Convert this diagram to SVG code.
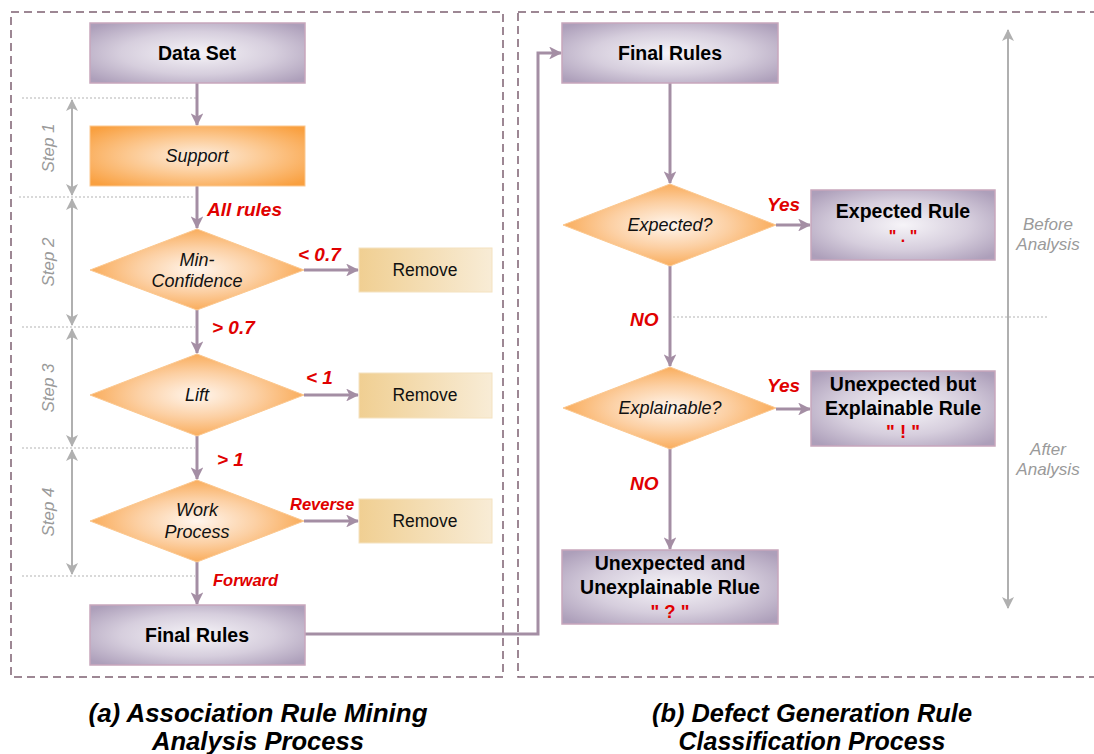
<svg xmlns="http://www.w3.org/2000/svg" width="1094" height="754" viewBox="0 0 1094 754">
<defs>
<radialGradient id="gPurple" cx="50%" cy="50%" r="65%">
<stop offset="0" stop-color="#f6f4f8"/>
<stop offset="0.55" stop-color="#d6cedd"/>
<stop offset="1" stop-color="#ad9fba"/>
</radialGradient>
<radialGradient id="gOrange" cx="50%" cy="50%" r="55%">
<stop offset="0" stop-color="#fff6ee"/>
<stop offset="0.5" stop-color="#fcd0a4"/>
<stop offset="1" stop-color="#f9a54c"/>
</radialGradient>
<radialGradient id="gSupport" cx="50%" cy="50%" r="65%">
<stop offset="0" stop-color="#fdeee0"/>
<stop offset="0.5" stop-color="#fcc890"/>
<stop offset="1" stop-color="#f9a040"/>
</radialGradient>
<linearGradient id="gRemove" x1="0" y1="0" x2="1" y2="0">
<stop offset="0" stop-color="#f0cf92"/>
<stop offset="1" stop-color="#f8ecd6"/>
</linearGradient>
<marker id="arr" viewBox="0 0 12 12" refX="11" refY="6" markerWidth="4.3" markerHeight="4.3" markerUnits="strokeWidth" orient="auto">
<path d="M0,0 L12,6 L0,12 L3,6 z" fill="#a48ea4"/>
</marker>
<marker id="garr" viewBox="0 0 12 12" refX="11" refY="6" markerWidth="6" markerHeight="6" markerUnits="strokeWidth" orient="auto-start-reverse">
<path d="M0,0 L12,6 L0,12 L3,6 z" fill="#b0b0b0"/>
</marker>
<style>
.panel{fill:none;stroke:#7e6072;stroke-width:1.5;stroke-dasharray:8,5}
.pbox{fill:url(#gPurple);stroke:#c8a6bc;stroke-width:1.5}
.odia{fill:url(#gOrange);stroke:#fbc890;stroke-width:1}
.rem{fill:url(#gRemove);stroke:#f4e2c0;stroke-width:1}
.con{fill:none;stroke:#a48ea4;stroke-width:3}
.dot{stroke:#b4b4b4;stroke-width:1.2;stroke-dasharray:2,2}
.garrow{stroke:#b0b0b0;stroke-width:2}
.bt{font-family:"Liberation Sans",Arial,sans-serif;font-weight:bold;font-size:19.5px;fill:#000;text-anchor:middle}
.it{font-family:"Liberation Sans",Arial,sans-serif;font-style:italic;font-size:18px;fill:#111;text-anchor:middle}
.rt{font-family:"Liberation Sans",Arial,sans-serif;font-size:17.5px;fill:#111;text-anchor:middle}
.red{font-family:"Liberation Sans",Arial,sans-serif;font-weight:bold;font-style:italic;font-size:19px;fill:#e00000}
.redq{font-family:"Liberation Sans",Arial,sans-serif;font-weight:bold;font-size:18.5px;fill:#e00000;text-anchor:middle}
.gray{font-family:"Liberation Sans",Arial,sans-serif;font-style:italic;font-size:17px;fill:#9a9a9a;text-anchor:middle}
.cap{font-family:"Liberation Sans Narrow","Liberation Sans",Arial,sans-serif;font-weight:bold;font-style:italic;font-size:26px;fill:#000;text-anchor:middle}
</style>
</defs>
<rect width="1094" height="754" fill="#ffffff"/>

<g id="panels">
<rect class="panel" x="11" y="12" width="492" height="665"/>
<rect class="panel" x="518" y="12" width="620" height="665"/>
</g>

<g id="steps">
<line class="dot" x1="22" y1="98" x2="196" y2="98"/>
<line class="dot" x1="19" y1="197" x2="195" y2="197"/>
<line class="dot" x1="22" y1="327" x2="195" y2="327"/>
<line class="dot" x1="22" y1="448" x2="195" y2="448"/>
<line class="dot" x1="22" y1="576" x2="195" y2="576"/>
<line class="garrow" x1="72" y1="100" x2="72" y2="195" marker-start="url(#garr)" marker-end="url(#garr)"/>
<line class="garrow" x1="72" y1="199" x2="72" y2="325" marker-start="url(#garr)" marker-end="url(#garr)"/>
<line class="garrow" x1="72" y1="329" x2="72" y2="446" marker-start="url(#garr)" marker-end="url(#garr)"/>
<line class="garrow" x1="72" y1="450" x2="72" y2="574" marker-start="url(#garr)" marker-end="url(#garr)"/>
<text class="gray" x="54" y="148" transform="rotate(-90 54 148)">Step 1</text>
<text class="gray" x="54" y="262" transform="rotate(-90 54 262)">Step 2</text>
<text class="gray" x="54" y="388" transform="rotate(-90 54 388)">Step 3</text>
<text class="gray" x="54" y="512" transform="rotate(-90 54 512)">Step 4</text>
</g>

<g id="analysis">
<line class="dot" x1="673" y1="317" x2="1047" y2="317"/>
<line class="garrow" x1="1008" y1="30" x2="1008" y2="608" marker-start="url(#garr)" marker-end="url(#garr)"/>
<text class="gray" x="1048" y="230">Before</text>
<text class="gray" x="1048" y="250">Analysis</text>
<text class="gray" x="1048" y="455">After</text>
<text class="gray" x="1048" y="475">Analysis</text>
</g>

<g id="connectors">
<line class="con" x1="197" y1="83" x2="197" y2="125" marker-end="url(#arr)"/>
<line class="con" x1="197" y1="186" x2="197" y2="228" marker-end="url(#arr)"/>
<line class="con" x1="197" y1="310" x2="197" y2="353" marker-end="url(#arr)"/>
<line class="con" x1="197" y1="436" x2="197" y2="479" marker-end="url(#arr)"/>
<line class="con" x1="197" y1="562" x2="197" y2="604" marker-end="url(#arr)"/>
<line class="con" x1="304" y1="270" x2="358" y2="270" marker-end="url(#arr)"/>
<line class="con" x1="304" y1="395" x2="358" y2="395" marker-end="url(#arr)"/>
<line class="con" x1="304" y1="521" x2="358" y2="521" marker-end="url(#arr)"/>
<polyline class="con" points="305,634 538,634 538,53 561,53" marker-end="url(#arr)"/>
<line class="con" x1="670" y1="83" x2="670" y2="183" marker-end="url(#arr)"/>
<line class="con" x1="670" y1="266" x2="670" y2="366" marker-end="url(#arr)"/>
<line class="con" x1="670" y1="449" x2="670" y2="549" marker-end="url(#arr)"/>
<line class="con" x1="776" y1="225" x2="810" y2="225" marker-end="url(#arr)"/>
<line class="con" x1="776" y1="409" x2="810" y2="409" marker-end="url(#arr)"/>
<text class="red" x="207" y="216">All rules</text>
<text class="red" x="298" y="261">&lt; 0.7</text>
<text class="red" x="212" y="334">&gt; 0.7</text>
<text class="red" x="306" y="384">&lt; 1</text>
<text class="red" x="217" y="466">&gt; 1</text>
<text class="red" x="290" y="510" style="font-size:16.5px">Reverse</text>
<text class="red" x="213" y="586" style="font-size:16.5px">Forward</text>
<text class="red" x="767" y="211">Yes</text>
<text class="red" x="767" y="392">Yes</text>
<text class="red" x="630" y="326">NO</text>
<text class="red" x="630" y="490">NO</text>
</g>

<g id="data-set">
<rect class="pbox" x="90" y="23" width="215" height="60"/>
<text class="bt" x="197" y="60">Data Set</text>
</g>
<g id="support">
<rect x="90" y="126" width="215" height="60" fill="url(#gSupport)" stroke="#fbc890" stroke-width="1"/>
<text class="it" x="197" y="162">Support</text>
</g>
<g id="min-confidence">
<polygon class="odia" points="90,270 197,229 304,270 197,310"/>
<text class="it" x="197" y="266">Min-</text>
<text class="it" x="197" y="287">Confidence</text>
</g>
<g id="remove-1">
<rect class="rem" x="359" y="248" width="133" height="44"/>
<text class="rt" x="425" y="276">Remove</text>
</g>
<g id="lift">
<polygon class="odia" points="90,395 197,354 304,395 197,436"/>
<text class="it" x="197" y="401">Lift</text>
</g>
<g id="remove-2">
<rect class="rem" x="359" y="373" width="133" height="45"/>
<text class="rt" x="425" y="401">Remove</text>
</g>
<g id="work-process">
<polygon class="odia" points="90,521 197,480 304,521 197,562"/>
<text class="it" x="197" y="516">Work</text>
<text class="it" x="197" y="538">Process</text>
</g>
<g id="remove-3">
<rect class="rem" x="359" y="499" width="133" height="44"/>
<text class="rt" x="425" y="527">Remove</text>
</g>
<g id="final-rules-a">
<rect class="pbox" x="90" y="605" width="215" height="60"/>
<text class="bt" x="197" y="642">Final Rules</text>
</g>

<g id="final-rules-b">
<rect class="pbox" x="562" y="23" width="216" height="60"/>
<text class="bt" x="670" y="60">Final Rules</text>
</g>
<g id="expected">
<polygon class="odia" points="563,225 670,184 776,225 670,266"/>
<text class="it" x="670" y="231">Expected?</text>
</g>
<g id="expected-rule">
<rect class="pbox" x="811" y="190" width="184" height="70"/>
<text class="bt" x="903" y="218">Expected Rule</text>
<text class="redq" x="903" y="242" style="font-size:16px" xml:space="preserve">" . "</text>
</g>
<g id="explainable">
<polygon class="odia" points="563,408 670,367 776,408 670,449"/>
<text class="it" x="670" y="414">Explainable?</text>
</g>
<g id="explainable-rule">
<rect class="pbox" x="811" y="371" width="184" height="75"/>
<text class="bt" x="903" y="391">Unexpected but</text>
<text class="bt" x="903" y="415">Explainable Rule</text>
<text class="redq" x="903" y="438" xml:space="preserve">" ! "</text>
</g>
<g id="unexplainable-rule">
<rect class="pbox" x="562" y="550" width="216" height="74"/>
<text class="bt" x="670" y="570">Unexpected and</text>
<text class="bt" x="670" y="594">Unexplainable Rlue</text>
<text class="redq" x="670" y="618" xml:space="preserve">" ? "</text>
</g>

<g id="captions">
<text class="cap" x="258" y="722" textLength="339" lengthAdjust="spacingAndGlyphs">(a) Association Rule Mining</text>
<text class="cap" x="258" y="750" textLength="212" lengthAdjust="spacingAndGlyphs">Analysis Process</text>
<text class="cap" x="812" y="722" textLength="320" lengthAdjust="spacingAndGlyphs">(b) Defect Generation Rule</text>
<text class="cap" x="812" y="750" textLength="267" lengthAdjust="spacingAndGlyphs">Classification Process</text>
</g>
</svg>
